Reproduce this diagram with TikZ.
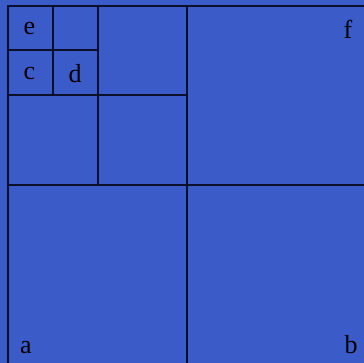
\documentclass[tikz,border=0pt]{standalone}
\usepackage{fontspec}
\setmainfont{Liberation Serif}
\definecolor{bgblue}{HTML}{3A5BC8}
\definecolor{linecol}{HTML}{0A0F2A}
\begin{document}
\begin{tikzpicture}[x=1pt,y=-1pt,
  grid/.style={draw=linecol,line width=1.4pt},
  lbl/.style={anchor=base,inner sep=0pt,font=\fontsize{26}{26}\selectfont,text=black}]
\fill[bgblue] (0,0) rectangle (364,363);
\useasboundingbox (0,0) rectangle (364,363);
\draw[grid] (8,363) -- (8,6) -- (364,6);
\draw[grid] (187,6) -- (187,363);
\draw[grid] (8,185) -- (364,185);
\draw[grid] (98,6) -- (98,185);
\draw[grid] (8,95) -- (187,95);
\draw[grid] (53,6) -- (53,95);
\draw[grid] (8,50) -- (98,50);
\node[lbl] (e) at (29.5,35) {e};
\node[lbl] (c) at (29.5,80) {c};
\node[lbl] (d) at (75,83) {d};
\node[lbl] (f) at (348,39) {f};
\node[lbl] (a) at (26,353) {a};
\node[lbl] (b) at (351,353) {b};
\end{tikzpicture}
\end{document}
